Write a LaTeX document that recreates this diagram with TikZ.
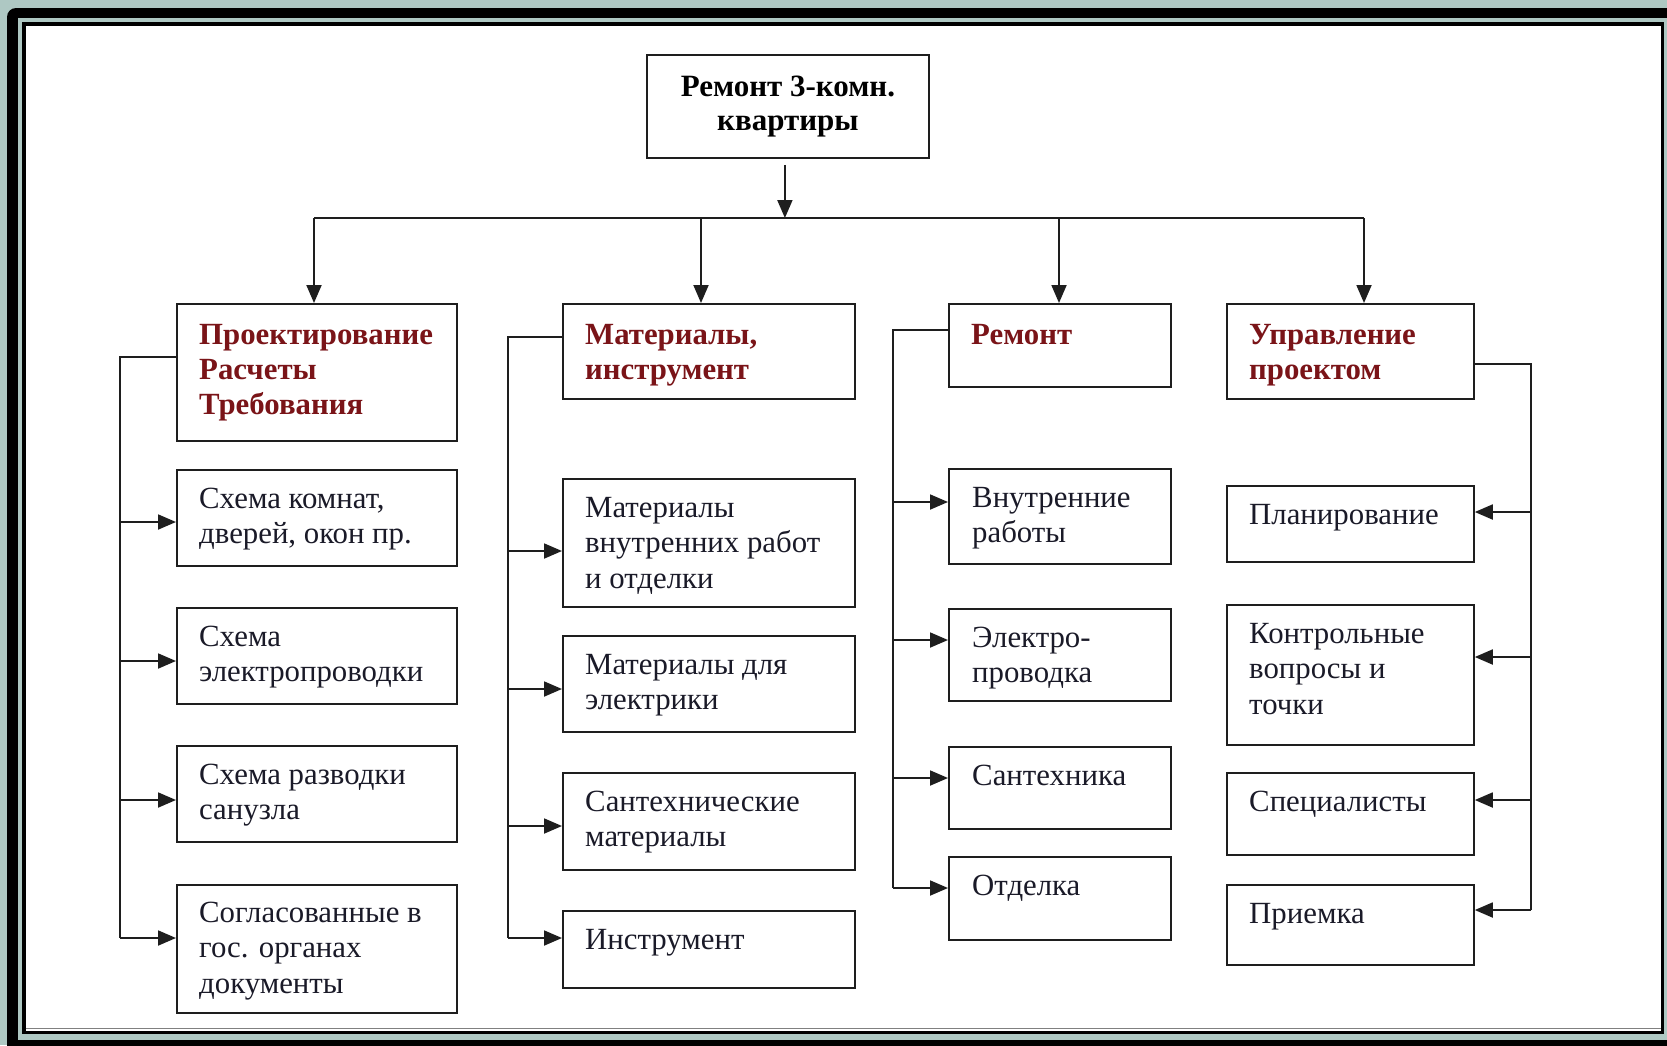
\documentclass[tikz,border=0pt]{standalone}
\usepackage{fontspec}
\setmainfont{Liberation Serif}
\usetikzlibrary{arrows.meta,calc}
\definecolor{bgteal}{HTML}{AEC8C3}
\definecolor{hdred}{HTML}{7A1418}
\definecolor{txtc}{HTML}{1A1A28}
\definecolor{lnc}{HTML}{1E1E1E}
\begin{document}
\begin{tikzpicture}[x=1pt,y=-1pt,
  box/.style={draw=lnc, line width=1.8pt, rectangle, inner sep=0pt, anchor=north west, fill=white},
  ctxt/.style={anchor=north west, inner sep=0pt, align=left, text=txtc, font=\fontsize{30.8}{35.5}\selectfont},
  htxt/.style={anchor=north west, inner sep=0pt, align=left, text=hdred, font=\bfseries\fontsize{30.8}{35}\selectfont},
  ln/.style={draw=lnc, line width=1.9pt},
  arr/.style={ln, -{Triangle[length=18pt,width=15pt]}},
  w1/.style={minimum width=280pt},
  w2/.style={minimum width=292pt},
  w3/.style={minimum width=222pt},
  w4/.style={minimum width=247pt}
]
\useasboundingbox (0,0) rectangle (1667,1045);
% frame
\fill[bgteal] (0,0) rectangle (1667,1045);
\begin{scope}
  \clip (0,0) rectangle (1667,1045);
  \fill[black, rounded corners=9pt] (7,8) rectangle (1720,1100);
\end{scope}
\fill[bgteal] (18,18) rectangle (1667,1040);
\fill[black] (22,22) rectangle (1664,1034);
\fill[white] (25.5,25.5) rectangle (1660.5,1030.5);
\draw[gray, line width=1.2pt] (25.5,1028.3) -- (1660.5,1028.3);

% top node
\node[box, minimum width=282pt, minimum height=103pt, align=center,
      font=\bfseries\fontsize{31}{34}\selectfont] (top) at (646,54) {Ремонт 3-комн.\\квартиры};

% headers
\node[box, w1, minimum height=137pt] (h1) at (176,303) {};
\node[box, w2, minimum height=95pt]  (h2) at (562,303) {};
\node[box, w3, minimum height=83pt]  (h3) at (948,303) {};
\node[box, w4, minimum height=95pt]  (h4) at (1226,303) {};
\node[htxt] (th1) at ($(h1.north west)+(23,16.5)$) {\strut Проектирование\\Расчеты\\Требования};
\node[htxt] (th2) at ($(h2.north west)+(23,16.5)$) {\strut Материалы,\\инструмент};
\node[htxt] (th3) at ($(h3.north west)+(23,16.5)$) {\strut Ремонт};
\node[htxt] (th4) at ($(h4.north west)+(23,16.5)$) {\strut Управление\\проектом};

% column 1
\node[box, w1, minimum height=96pt]  (c11) at (176,469) {};
\node[box, w1, minimum height=96pt]  (c12) at (176,607) {};
\node[box, w1, minimum height=96pt]  (c13) at (176,745) {};
\node[box, w1, minimum height=128pt] (c14) at (176,884) {};
\node[ctxt] (t11) at ($(c11.north west)+(23,14.2)$) {\strut Схема комнат,\\дверей, окон пр.};
\node[ctxt] (t12) at ($(c12.north west)+(23,14.2)$) {\strut Схема\\электропроводки};
\node[ctxt] (t13) at ($(c13.north west)+(23,14.2)$) {\strut Схема разводки\\санузла};
\node[ctxt] (t14) at ($(c14.north west)+(23,13.2)$) {\strut Согласованные в\\гос. органах\\документы};

% column 2
\node[box, w2, minimum height=128pt] (c21) at (562,478) {};
\node[box, w2, minimum height=96pt]  (c22) at (562,635) {};
\node[box, w2, minimum height=97pt]  (c23) at (562,772) {};
\node[box, w2, minimum height=77pt]  (c24) at (562,910) {};
\node[ctxt] (t21) at ($(c21.north west)+(23,14.2)$) {\strut Материалы\\внутренних работ\\и отделки};
\node[ctxt] (t22) at ($(c22.north west)+(23,14.2)$) {\strut Материалы для\\электрики};
\node[ctxt] (t23) at ($(c23.north west)+(23,14.2)$) {\strut Сантехнические\\материалы};
\node[ctxt] (t24) at ($(c24.north west)+(23,14.2)$) {\strut Инструмент};

% column 3
\node[box, w3, minimum height=95pt] (c31) at (948,468) {};
\node[box, w3, minimum height=92pt] (c32) at (948,608) {};
\node[box, w3, minimum height=82pt] (c33) at (948,746) {};
\node[box, w3, minimum height=83pt] (c34) at (948,856) {};
\node[ctxt] (t31) at ($(c31.north west)+(24,14.2)$) {\strut Внутренние\\работы};
\node[ctxt] (t32) at ($(c32.north west)+(24,14.2)$) {\strut Электро-\\проводка};
\node[ctxt] (t33) at ($(c33.north west)+(24,14.2)$) {\strut Сантехника};
\node[ctxt] (t34) at ($(c34.north west)+(24,14.2)$) {\strut Отделка};

% column 4
\node[box, w4, minimum height=76pt]  (c41) at (1226,485) {};
\node[box, w4, minimum height=140pt] (c42) at (1226,604) {};
\node[box, w4, minimum height=82pt]  (c43) at (1226,772) {};
\node[box, w4, minimum height=80pt]  (c44) at (1226,884) {};
\node[ctxt] (t41) at ($(c41.north west)+(23,14.2)$) {\strut Планирование};
\node[ctxt] (t42) at ($(c42.north west)+(23,14.2)$) {\strut Контрольные\\вопросы и\\точки};
\node[ctxt] (t43) at ($(c43.north west)+(23,14.2)$) {\strut Специалисты};
\node[ctxt] (t44) at ($(c44.north west)+(23,14.2)$) {\strut Приемка};

% bus
\coordinate (d1) at (314,218);
\coordinate (d2) at (701,218);
\coordinate (d3) at (1059,218);
\coordinate (d4) at (1364,218);
\draw[arr] ($(top.south)+(-3,6)$) -- ($(top.south |- d1)+(-3,0)$);
\draw[ln] (d1) -- (d4);
\draw[arr] (d1) -- (d1 |- h1.north);
\draw[arr] (d2) -- (d2 |- h2.north);
\draw[arr] (d3) -- (d3 |- h3.north);
\draw[arr] (d4) -- (d4 |- h4.north);

% column 1 connectors
\coordinate (k1) at (120,357);
\coordinate (l11) at (120,522);
\coordinate (l12) at (120,661);
\coordinate (l13) at (120,800);
\coordinate (l14) at (120,938);
\draw[ln] (k1 -| h1.west) -- (k1) -- (l14);
\draw[arr] (l11) -- (l11 -| c11.west);
\draw[arr] (l12) -- (l12 -| c12.west);
\draw[arr] (l13) -- (l13 -| c13.west);
\draw[arr] (l14) -- (l14 -| c14.west);

% column 2 connectors
\coordinate (k2) at (508,337);
\coordinate (l21) at (508,551);
\coordinate (l22) at (508,689);
\coordinate (l23) at (508,826);
\coordinate (l24) at (508,938);
\draw[ln] (k2 -| h2.west) -- (k2) -- (l24);
\draw[arr] (l21) -- (l21 -| c21.west);
\draw[arr] (l22) -- (l22 -| c22.west);
\draw[arr] (l23) -- (l23 -| c23.west);
\draw[arr] (l24) -- (l24 -| c24.west);

% column 3 connectors
\coordinate (k3) at (893,330);
\coordinate (l31) at (893,502);
\coordinate (l32) at (893,640);
\coordinate (l33) at (893,778);
\coordinate (l34) at (893,888);
\draw[ln] (k3 -| h3.west) -- (k3) -- (l34);
\draw[arr] (l31) -- (l31 -| c31.west);
\draw[arr] (l32) -- (l32 -| c32.west);
\draw[arr] (l33) -- (l33 -| c33.west);
\draw[arr] (l34) -- (l34 -| c34.west);

% column 4 connectors
\coordinate (k4) at (1531,364);
\coordinate (l41) at (1531,512);
\coordinate (l42) at (1531,657);
\coordinate (l43) at (1531,800);
\coordinate (l44) at (1531,910);
\draw[ln] (k4 -| h4.east) -- (k4) -- (l44);
\draw[arr] (l41) -- (l41 -| c41.east);
\draw[arr] (l42) -- (l42 -| c42.east);
\draw[arr] (l43) -- (l43 -| c43.east);
\draw[arr] (l44) -- (l44 -| c44.east);
\end{tikzpicture}
\end{document}
